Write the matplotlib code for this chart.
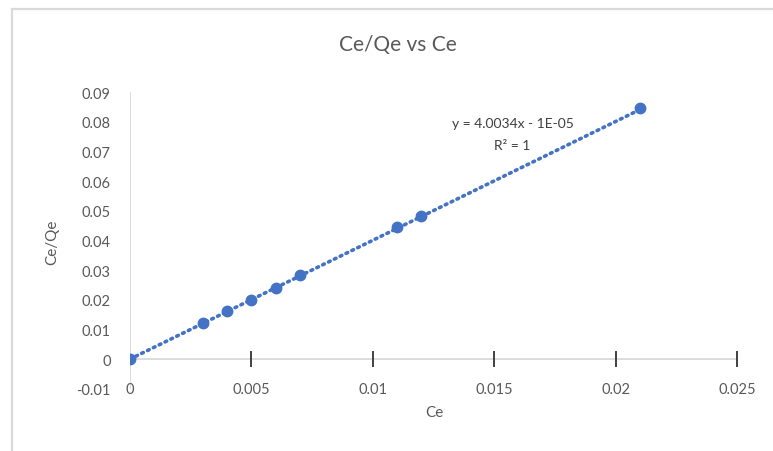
import numpy as np
import matplotlib
matplotlib.use('Agg')
import matplotlib.pyplot as plt
from matplotlib.patches import Rectangle

plt.rcParams['font.family'] = ['Lato', 'DejaVu Sans']

# data
ce = [0.0, 0.003, 0.004, 0.005, 0.006, 0.007, 0.011, 0.012, 0.021]
ce_qe = [0.0, 0.0121, 0.0162, 0.0199, 0.0239, 0.0283, 0.0445, 0.0482, 0.0846]
xticks = [0, 0.005, 0.01, 0.015, 0.02, 0.025]
xtick_labels = ['0', '0.005', '0.01', '0.015', '0.02', '0.025']
yticks = [-0.01, 0, 0.01, 0.02, 0.03, 0.04, 0.05, 0.06, 0.07, 0.08, 0.09]
ytick_labels = ['-0.01', '0', '0.01', '0.02', '0.03', '0.04', '0.05', '0.06', '0.07', '0.08', '0.09']
slope = 4.0034
intercept = -1e-05

W, H = 773, 452
fig = plt.figure(figsize=(W / 100, H / 100), dpi=100)

# light chart-area border
fig.patches.append(Rectangle((12 / W, -0.05), 1.1, 1 - 10 / H + 0.05,
                             transform=fig.transFigure, fill=False,
                             edgecolor='#dadada', lw=1.6))

ax = fig.add_axes([130 / W, 1 - 389.7 / H, (737 - 130) / W, (389.7 - 93) / H])
ax.set_xlim(0, 0.025)
ax.set_ylim(-0.01, 0.09)
for s in ax.spines.values():
    s.set_visible(False)

# axis lines through the origin
ax.axhline(0, color='#d9d9d9', lw=1.3, zorder=1)
ax.axvline(0, color='#d9d9d9', lw=1.3, zorder=1)
ax.plot(xticks[1:], np.zeros(len(xticks) - 1), ls='none', marker='|',
        ms=11, mew=1.4, color='#404040', zorder=2)

ax.set_xticks(xticks)
ax.set_xticklabels(xtick_labels)
ax.set_yticks(yticks)
ax.set_yticklabels(ytick_labels)
ax.tick_params(axis='x', length=0, pad=-5, labelsize=10.5, labelcolor='#595959')
ax.tick_params(axis='y', length=0, pad=14, labelsize=10.5, labelcolor='#595959')

# trendline
xs = np.array([min(ce), max(ce)])
ax.plot(xs, slope * xs + intercept, ls=(0, (0.5, 1.3)), lw=2.6,
        color='#4472C4', dash_capstyle='round', zorder=3)
ax.plot(ce, ce_qe, 'o', ms=7.5, color='#4472C4', zorder=4)

fig.text(398 / W, 1 - 45 / H, 'Ce/Qe vs Ce', ha='center', va='center',
         fontsize=15, color='#595959')
fig.text(434 / W, 1 - 413 / H, 'Ce', ha='center', va='center',
         fontsize=11, color='#595959')
fig.text(52 / W, 1 - 242 / H, 'Ce/Qe', ha='center', va='center',
         rotation=90, fontsize=11, color='#595959')
fig.text(513 / W, 1 - 124 / H, 'y = 4.0034x - 1E-05', ha='center',
         va='center', fontsize=10, color='#404040')
fig.text(512 / W, 1 - 146 / H, 'R² = 1', ha='center', va='center',
         fontsize=10, color='#404040')

fig.savefig('out.png', dpi=100)
